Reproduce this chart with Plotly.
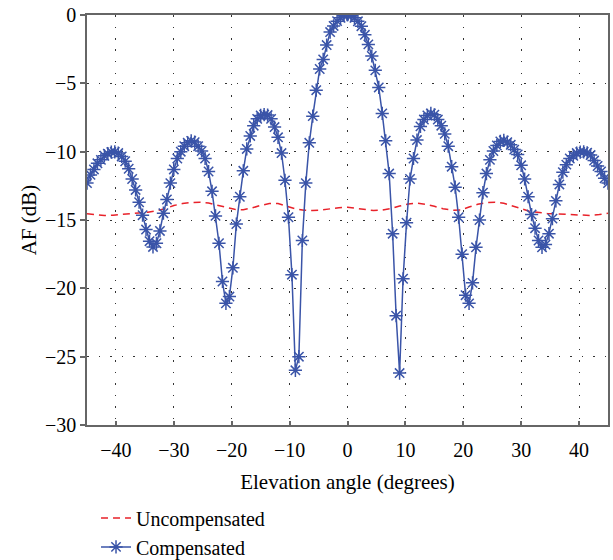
import plotly.graph_objects as go

# Elevation angles (degrees) of the compensated samples
angle = [
    -45.0, -44.4, -43.8, -43.2, -42.6, -42.0, -41.4, -40.8, -40.2, -39.6,
    -39.0, -38.4, -37.8, -37.2, -36.6, -36.0, -35.4, -34.8, -34.2, -33.6,
    -33.0, -32.4, -31.8, -31.2, -30.6, -30.0, -29.4, -28.8, -28.2, -27.6,
    -27.0, -26.4, -25.8, -25.2, -24.6, -24.0, -23.4, -22.8, -22.2, -21.6,
    -21.0, -20.4, -19.8, -19.2, -18.6, -18.0, -17.4, -16.8, -16.2, -15.6,
    -15.0, -14.4, -13.8, -13.2, -12.6, -12.0, -11.4, -10.8, -10.2, -9.6,
    -9.0, -8.4, -7.8, -7.2, -6.6, -6.0, -5.4, -4.8, -4.2, -3.6,
    -3.0, -2.4, -1.8, -1.2, -0.6,
    0.0, 0.6, 1.2, 1.8, 2.4, 3.0, 3.6, 4.2, 4.8, 5.4,
    6.0, 6.6, 7.2, 7.8, 8.4, 9.0, 9.6, 10.2, 10.8, 11.4,
    12.0, 12.6, 13.2, 13.8, 14.4, 15.0, 15.6, 16.2, 16.8, 17.4,
    18.0, 18.6, 19.2, 19.8, 20.4, 21.0, 21.6, 22.2, 22.8, 23.4,
    24.0, 24.6, 25.2, 25.8, 26.4, 27.0, 27.6, 28.2, 28.8, 29.4,
    30.0, 30.6, 31.2, 31.8, 32.4, 33.0, 33.6, 34.2, 34.8, 35.4,
    36.0, 36.6, 37.2, 37.8, 38.4, 39.0, 39.6, 40.2, 40.8, 41.4,
    42.0, 42.6, 43.2, 43.8, 44.4, 45.0,
]

# Compensated array factor (dB)
af_compensated = [
    -12.3, -11.7, -11.3, -10.85, -10.6, -10.3, -10.15, -10.03, -10.02, -10.1,
    -10.35, -10.7, -11.25, -12.0, -12.8, -13.7, -14.65, -15.7, -16.55, -16.97,
    -16.7, -15.8, -14.5, -13.5, -12.3, -11.3, -10.5, -10.0, -9.6, -9.35,
    -9.21, -9.3, -9.6, -9.95, -10.5, -11.45, -12.9, -14.7, -16.7, -19.5,
    -21.1, -20.6, -18.5, -15.3, -13.3, -11.4, -9.8, -8.85, -8.1, -7.6,
    -7.35, -7.29, -7.32, -7.6, -8.2, -8.95, -10.1, -12.1, -14.8, -19.0,
    -26.0, -25.0, -16.5, -12.3, -9.35, -7.4, -5.5, -3.95, -3.25, -2.2,
    -1.25, -0.8, -0.45, -0.2, -0.05,
    0.0, -0.05, -0.2, -0.46, -0.82, -1.45, -2.15, -3.0, -4.05, -5.3,
    -7.2, -9.2, -11.6, -16.0, -22.0, -26.2, -19.3, -15.2, -12.0, -10.5,
    -9.15, -8.15, -7.65, -7.35, -7.2, -7.3, -7.65, -8.1, -8.7, -9.6,
    -11.1, -12.6, -14.8, -17.5, -20.5, -21.1, -19.6, -17.0, -15.0, -13.0,
    -11.6, -10.6, -9.95, -9.55, -9.25, -9.18, -9.3, -9.5, -9.85, -10.2,
    -11.0, -12.0, -13.3, -14.6, -15.6, -16.5, -17.0, -16.8, -16.0, -14.9,
    -13.6, -12.4, -11.5, -10.95, -10.5, -10.3, -10.1, -10.03, -10.02, -10.08,
    -10.25, -10.65, -11.05, -11.45, -11.95, -12.3,
]

# Uncompensated array factor (dB)
angle_uncomp = [
    -45.0, -43.5, -42.0, -40.5, -39.0, -37.5, -36.0, -34.5, -33.0, -31.5,
    -30.0, -28.5, -27.0, -25.5, -24.0, -22.5, -21.0, -19.5, -18.0, -16.5,
    -15.0, -13.5, -12.0, -10.5, -9.0, -7.5, -6.0, -4.5, -3.0, -1.5,
    0.0, 1.5, 3.0, 4.5, 6.0, 7.5, 9.0, 10.5, 12.0, 13.5,
    15.0, 16.5, 18.0, 19.5, 21.0, 22.5, 24.0, 25.5, 27.0, 28.5,
    30.0, 31.5, 33.0, 34.5, 36.0, 37.5, 39.0, 40.5, 42.0, 43.5, 45.0,
]
af_uncompensated = [
    -14.55, -14.63, -14.67, -14.65, -14.6, -14.55, -14.5, -14.43, -14.33, -14.18,
    -13.94, -13.8, -13.72, -13.7, -13.76, -13.9, -14.08, -14.22, -14.25, -14.12,
    -13.93, -13.8, -13.8, -13.98, -14.18, -14.28, -14.31, -14.27, -14.18, -14.1,
    -14.07, -14.15, -14.25, -14.31, -14.27, -14.16, -13.98, -13.83, -13.77, -13.85,
    -14.0, -14.17, -14.28, -14.27, -14.05, -13.85, -13.73, -13.7, -13.78, -13.95,
    -14.17, -14.38, -14.47, -14.52, -14.55, -14.58, -14.62, -14.66, -14.67, -14.6, -14.5,
]

x_ticks = [-40, -30, -20, -10, 0, 10, 20, 30, 40]
y_ticks = [0, -5, -10, -15, -20, -25, -30]

FONT = "Liberation Serif"
BLUE = "#3a54a8"
RED = "#e8222a"

fig = go.Figure()
fig.add_trace(go.Scatter(
    x=angle_uncomp, y=af_uncompensated, mode="lines", name="Uncompensated",
    line=dict(color=RED, width=1.5, dash="7px,5px"),
))
fig.add_trace(go.Scatter(
    x=angle, y=af_compensated, mode="lines+markers", name="Compensated",
    line=dict(color=BLUE, width=1.5),
    marker=dict(symbol="asterisk-open", size=11, color=BLUE,
                line=dict(color=BLUE, width=1.5)),
))

axis_common = dict(
    showline=True, linecolor="#666666", linewidth=1.5, mirror=True,
    showgrid=True, gridcolor="#333333", gridwidth=1.3, griddash="1.5px,10px",
    zeroline=False, tickcolor="#666666", tickwidth=1.5, automargin=False,
    tickfont=dict(family=FONT, size=20, color="black"),
)

fig.update_layout(
    width=613, height=560,
    margin=dict(l=87, r=5, t=15, b=135, autoexpand=False),
    paper_bgcolor="white", plot_bgcolor="white",
    font=dict(family=FONT, size=21, color="black"),
    xaxis=dict(range=[-45, 45], tickvals=x_ticks, ticks="inside", ticklen=4,
               ticklabelstandoff=6,
               title=dict(text="Elevation angle (degrees)",
                          font=dict(family=FONT, size=21)),
               **axis_common),
    yaxis=dict(range=[-30, 0], tickvals=y_ticks, ticks="outside", ticklen=5,
               title=dict(text="AF (dB)", standoff=3,
                          font=dict(family=FONT, size=21)),
               **axis_common),
    legend=dict(x=0.0173, y=-0.179, xanchor="left", yanchor="top",
                bgcolor="rgba(0,0,0,0)", borderwidth=0,
                font=dict(family=FONT, size=20), tracegroupgap=0),
    showlegend=True,
)

fig.write_html("out.html")
